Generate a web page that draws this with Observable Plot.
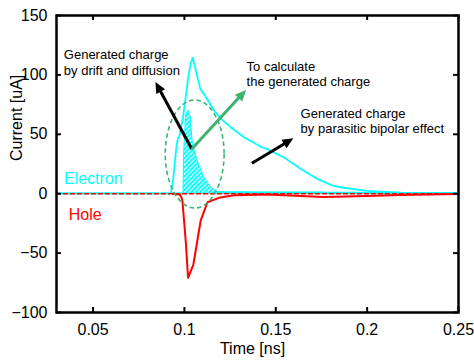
<!DOCTYPE html>
<html>
<head>
<meta charset="utf-8">
<script src="https://cdn.jsdelivr.net/npm/d3@7"></script>
<script src="https://cdn.jsdelivr.net/npm/@observablehq/plot@0.6"></script>
<style>
  html, body { margin: 0; padding: 0; background: white; }
</style>
</head>
<body>
<div id="chart"></div>
<script>
// ---- data ----
const xTicks = [0.05, 0.1, 0.15, 0.2, 0.25];
const yTicks = [-100, -50, 0, 50, 100, 150];

const electronT = [0.03, 0.0925, 0.0935, 0.0945, 0.0955, 0.0962, 0.0975, 0.0993, 0.1006, 0.102, 0.1035, 0.1046, 0.1068, 0.1087, 0.1107, 0.1135, 0.1162, 0.12, 0.1253, 0.1326, 0.1418, 0.1453, 0.155, 0.1635, 0.1726, 0.1817, 0.1872, 0.2, 0.218, 0.25];
const electronV = [0, 0, 8, 22, 38, 45, 50, 65, 80, 97, 110, 114.5, 100, 88, 84, 77, 70, 63, 56, 47.5, 39.5, 37.5, 30, 21, 12.5, 6.5, 5, 2.3, 0.8, 0.3];

const holeT = [0.0935, 0.0975, 0.0983, 0.0989, 0.0998, 0.1007, 0.102, 0.1049, 0.1071, 0.108, 0.1089, 0.1126, 0.1189, 0.1271, 0.1453, 0.1635, 0.1763, 0.2, 0.218, 0.25];
const holeV = [0, -0.7, -3, -5.7, -22.6, -39.4, -70.8, -59.6, -39.4, -31, -22.6, -7.2, -3.5, -1.3, -0.7, -2, -2.8, -2, -1, -0.3];

// electron component by drift and diffusion (hatched)
const driftT = [0.03, 0.0995, 0.0998, 0.1003, 0.101, 0.1022, 0.1035, 0.1044, 0.1057, 0.1071, 0.1107, 0.1144, 0.1181, 0.125, 0.15, 0.2, 0.25];
const driftV = [0, 0, 30, 50, 66, 70, 64, 45, 36, 28, 14, 5.5, 1.2, 1, 0.8, 0.6, 0.3];

// hole component by drift and diffusion (dashed baseline)
const holeDriftT = [0.03, 0.25];
const holeDriftV = [0, 0];

const notes = [
  {t: 0.034, v: 111, text: "Generated charge\nby drift and diffusion"},
  {t: 0.134, v: 101, text: "To calculate\nthe generated charge"},
  {t: 0.1636, v: 61.5, text: "Generated charge\nby parasitic bipolar effect"}
];
const seriesLabels = [
  {t: 0.0341, v: 12.5, text: "Electron", color: "#00ffff"},
  {t: 0.0367, v: -17.5, text: "Hole", color: "#ff0000"}
];
const arrows = [
  {x1: 0.1043, y1: 37.2, x2: 0.0844, y2: 93.6, color: "black"},
  {x1: 0.1043, y1: 37.2, x2: 0.134, y2: 86.9, color: "#3cb371"},
  {x1: 0.1372, y1: 25.2, x2: 0.1599, y2: 46.2, color: "black"}
];
const ellipses = [{cx: 0.1059, cy: 33, rx: 0.0161, ry: 45.5}];

// ---- tables ----
const electron = electronT.map((t, i) => ({t, v: electronV[i]}));
const hole = holeT.map((t, i) => ({t, v: holeV[i]}));
const drift = driftT.map((t, i) => ({t, v: driftV[i]}));
const driftTail = drift.filter(d => d.t >= 0.1181);
const holeDrift = holeDriftT.map((t, i) => ({t, v: holeDriftV[i]}));

const NS = "http://www.w3.org/2000/svg";
const fontFamily = "'Liberation Sans', Arial, Helvetica, sans-serif";

function defsMark() {
  const defs = document.createElementNS(NS, "defs");
  defs.innerHTML = `<pattern id="hatch" width="3.2" height="3.2" patternUnits="userSpaceOnUse" patternTransform="rotate(45)">
      <rect width="3.2" height="3.2" fill="#00ffff"></rect>
      <line x1="0.6" y1="0" x2="0.6" y2="3.2" stroke="white" stroke-width="1.1"></line>
    </pattern>`;
  return defs;
}

function ellipseMark(index, scales) {
  const g = document.createElementNS(NS, "g");
  for (const e of ellipses) {
    const el = document.createElementNS(NS, "ellipse");
    const cx = scales.x(e.cx), cy = scales.y(e.cy);
    el.setAttribute("cx", cx);
    el.setAttribute("cy", cy);
    el.setAttribute("rx", Math.abs(scales.x(e.cx + e.rx) - cx));
    el.setAttribute("ry", Math.abs(scales.y(e.cy + e.ry) - cy));
    el.setAttribute("fill", "none");
    el.setAttribute("stroke", "#3cb371");
    el.setAttribute("stroke-width", "1.6");
    el.setAttribute("stroke-dasharray", "4.5,3");
    g.appendChild(el);
  }
  return g;
}

// arrows with filled triangular heads, positioned through the plot's scales
function arrowMark(index, scales) {
  const g = document.createElementNS(NS, "g");
  const headLen = 11, headHalf = 5;
  for (const a of arrows) {
    const x1 = scales.x(a.x1), y1 = scales.y(a.y1);
    const x2 = scales.x(a.x2), y2 = scales.y(a.y2);
    const dx = x2 - x1, dy = y2 - y1, L = Math.hypot(dx, dy);
    const ux = dx / L, uy = dy / L;
    const bx = x2 - ux * headLen, by = y2 - uy * headLen;
    const line = document.createElementNS(NS, "line");
    line.setAttribute("x1", x1); line.setAttribute("y1", y1);
    line.setAttribute("x2", bx + ux); line.setAttribute("y2", by + uy);
    line.setAttribute("stroke", a.color);
    line.setAttribute("stroke-width", "3");
    g.appendChild(line);
    const head = document.createElementNS(NS, "path");
    head.setAttribute("d", `M${x2},${y2}L${bx - uy * headHalf},${by + ux * headHalf}L${bx + uy * headHalf},${by - ux * headHalf}Z`);
    head.setAttribute("fill", a.color);
    g.appendChild(head);
  }
  return g;
}

const plot = Plot.plot({
  width: 474,
  height: 360,
  marginLeft: 56,
  marginRight: 16,
  marginTop: 15,
  marginBottom: 48,
  style: {fontFamily, fontSize: "16px", color: "black", background: "white", overflow: "visible"},
  x: {domain: [0.03, 0.25], ticks: xTicks, tickFormat: d => String(d), tickSize: 0, tickPadding: 11, label: null},
  y: {domain: [-100, 150], ticks: yTicks, tickSize: 0, tickPadding: 9, label: null},
  marks: [
    defsMark,
    // hatched drift-diffusion area
    Plot.areaY(drift, {x: "t", y: "v", fill: "url(#hatch)", stroke: "#00ffff", strokeWidth: 1, curve: "linear"}),
    Plot.line(driftTail, {x: "t", y: "v", stroke: "#00ffff", strokeWidth: 2.5, strokeDasharray: "3,2"}),
    // total electron current
    Plot.line(electron, {x: "t", y: "v", stroke: "#00ffff", strokeWidth: 1.8}),
    // hole current
    Plot.line(hole, {x: "t", y: "v", stroke: "#ff0000", strokeWidth: 2}),
    Plot.line(holeDrift, {x: "t", y: "v", stroke: "#ff0000", strokeWidth: 1.6, strokeDasharray: "4,3"}),
    ellipseMark,
    arrowMark,
    // annotation texts
    Plot.text(notes, {x: "t", y: "v", text: "text", textAnchor: "start", fontSize: 13, lineHeight: 1.2, fill: "black"}),
    Plot.text(seriesLabels, {x: "t", y: "v", text: "text", textAnchor: "start", fontSize: 16, fill: "color"}),
    // inward ticks
    Plot.ruleX(xTicks, {x: d => d, y1: -100, y2: -95.8, stroke: "black", strokeWidth: 2}),
    Plot.ruleX(xTicks, {x: d => d, y1: 150, y2: 145.8, stroke: "black", strokeWidth: 2}),
    Plot.ruleY(yTicks, {y: d => d, x1: 0.03, x2: 0.0327, stroke: "black", strokeWidth: 2}),
    Plot.ruleY(yTicks, {y: d => d, x1: 0.25, x2: 0.2473, stroke: "black", strokeWidth: 2}),
    Plot.frame({stroke: "black", strokeWidth: 2.5}),
    // axis titles
    Plot.text(["Time [ns]"], {frameAnchor: "bottom", lineAnchor: "middle", dy: 36, dx: -5, fontSize: 16, fill: "black"}),
    Plot.text(["Current [uA]"], {frameAnchor: "left", lineAnchor: "middle", rotate: -90, dx: -40, dy: -3, fontSize: 16, fill: "black"})
  ]
});

document.getElementById("chart").appendChild(plot);
</script>
</body>
</html>
